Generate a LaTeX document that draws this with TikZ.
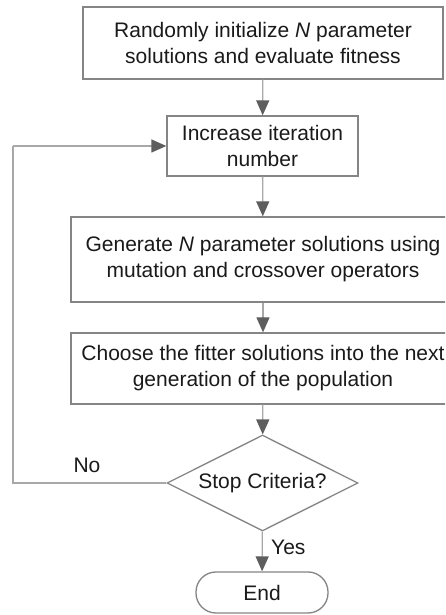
\documentclass[tikz,border=0pt]{standalone}
\usepackage{fontspec}
\setmainfont{Liberation Sans}
\usetikzlibrary{shapes.geometric,arrows.meta}
\definecolor{linegray}{HTML}{A8A8A8}
\definecolor{boxgray}{HTML}{858585}
\definecolor{tipgray}{HTML}{5E5E5E}
\definecolor{textgray}{HTML}{1A1A1A}
\tikzset{
  x=1pt, y=1pt,
  every node/.style={font=\fontsize{21}{26}\selectfont, text=textgray},
  procbox/.style={draw=boxgray, line width=1.3pt, rectangle, align=center, inner sep=0pt},
  decision/.style={draw=boxgray, line width=1.3pt, diamond, aspect=2, inner sep=0pt, minimum width=191pt, minimum height=96pt},
  terminal/.style={draw=boxgray, line width=1.3pt, rectangle, rounded corners=20pt, inner sep=0pt, minimum width=132pt, minimum height=41pt},
  flow/.style={draw=linegray, line width=1.3pt, -{Triangle[length=15pt,width=13pt,fill=tipgray,color=tipgray]}},
  plainline/.style={draw=linegray, line width=1.3pt},
}
\begin{document}
\begin{tikzpicture}
\clip (0,0) rectangle (445,615);
\fill[white] (0,0) rectangle (445,615);

\node[procbox, minimum width=360pt, minimum height=72pt] (init) at (263,572)
  {Randomly initialize \textit{N} parameter\\solutions and evaluate fitness};
\node[procbox, minimum width=191pt, minimum height=60pt] (inc) at (262.5,469)
  {Increase iteration\\number};
\node[procbox, minimum width=384pt, minimum height=85pt] (gen) at (263,355.5)
  {Generate \textit{N} parameter solutions using\\mutation and crossover operators};
\node[procbox, minimum width=384pt, minimum height=71pt] (choose) at (263,246.5)
  {Choose the fitter solutions into the next\\generation of the population};
\node[decision] (stop) at (262.5,132) {Stop Criteria?};
\node[terminal] (end) at (262,22.5) {End};

\coordinate (loopA) at (13,132);
\coordinate (loopB) at (13,469);

\draw[flow] (init) -- (inc);
\draw[flow] (inc) -- (gen);
\draw[flow] (gen) -- (choose);
\draw[flow] (choose) -- (stop);
\draw[flow] (stop) -- node[right, xshift=5pt, pos=0.4] (yes) {Yes} (end);
\draw[plainline] (stop.west) -- (loopA) -- (loopB);
\draw[flow] (loopB) -- (inc.west);

\node (no) at (87,150) {No};
\end{tikzpicture}
\end{document}
